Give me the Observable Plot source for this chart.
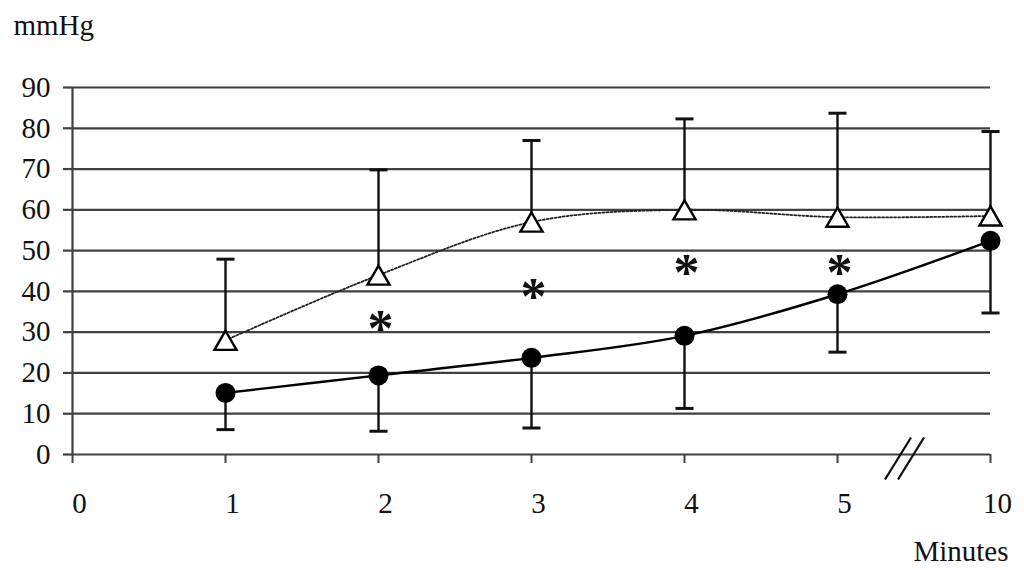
<!DOCTYPE html>
<html><head><meta charset="utf-8">
<script src="https://cdn.jsdelivr.net/npm/d3@7"></script>
<script src="https://cdn.jsdelivr.net/npm/@observablehq/plot@0.6"></script>
<style>body{margin:0;background:#fff} svg{display:block}</style>
</head><body><div id="chart"></div>
<script>
// x categories (equally spaced, with an axis break between 5 and 10)
const minutes = ["0","1","2","3","4","5","10"];
const sampleIdx = [1, 2, 3, 4, 5, 6];
// open triangles (upper error bars)
const triMean  = [28, 44, 57, 60, 58.2, 58.5];
const triUpper = [47.9, 69.8, 77, 82.3, 83.7, 79.2];
// filled circles (lower error bars)
const dotMean  = [15.1, 19.4, 23.7, 29.1, 39.3, 52.4];
const dotLower = [6.1, 5.7, 6.5, 11.3, 25.1, 34.7];
// significance asterisks
const starIdx = [2, 3, 4, 5];
const starY   = [33.4, 41.3, 47, 47];
const yTicks = d3.range(0, 100, 10);
const breakAt = [5.5];

const tri = sampleIdx.map((x, i) => ({x, mean: triMean[i], upper: triUpper[i]}));
const dots = sampleIdx.map((x, i) => ({x, mean: dotMean[i], lower: dotLower[i]}));
const stars = starIdx.map((x, i) => ({x, y: starY[i]}));

const capSymbol = {draw(ctx, size) { const w = Math.sqrt(size); ctx.moveTo(-w / 2, 0); ctx.lineTo(w / 2, 0); }};
const breakSymbol = {draw(ctx, size) {
  ctx.moveTo(-29, 25); ctx.lineTo(-3, -17);
  ctx.moveTo(-16, 25); ctx.lineTo(10, -17);
}};

const font = "'Liberation Serif', 'Times New Roman', serif";
const fs = 29;
const chart = Plot.plot({
  width: 1024, height: 570,
  marginLeft: 72, marginRight: 34, marginTop: 87, marginBottom: 116,
  style: {fontFamily: font, fontSize: fs + "px", color: "#111", background: "#fff"},
  x: {type: "linear", domain: [0, 6], label: null, axis: null},
  y: {domain: [0, 90], label: null, axis: null},
  marks: [
    Plot.ruleY(yTicks, {stroke: "#404040", strokeWidth: 2.2}),
    Plot.ruleX([0], {y1: 0, y2: 90, stroke: "#404040", strokeWidth: 2.2}),
    Plot.axisY({ticks: yTicks, tickSize: 9, tickPadding: 13, stroke: "#404040", strokeWidth: 2.2, fontSize: fs, label: null}),
    Plot.axisX({ticks: d3.range(minutes.length), tickSize: 9, stroke: "#404040", strokeWidth: 2, text: null, label: null}),
    Plot.axisX({ticks: d3.range(minutes.length), tickSize: 0, tickPadding: 38, dx: 7, tickFormat: i => minutes[i], fontSize: fs, label: null}),
    Plot.dot(breakAt, {x: d => d, y: () => 0, symbol: breakSymbol, r: 10, stroke: "#111", strokeWidth: 2.3, fill: "none"}),
    // error bars
    Plot.ruleX(tri, {x: "x", y1: "mean", y2: "upper", stroke: "#111", strokeWidth: 2.4}),
    Plot.dot(tri, {x: "x", y: "upper", symbol: capSymbol, r: 10.2, stroke: "#111", strokeWidth: 3, fill: "none"}),
    Plot.ruleX(dots, {x: "x", y1: "mean", y2: "lower", stroke: "#111", strokeWidth: 2.4}),
    Plot.dot(dots, {x: "x", y: "lower", symbol: capSymbol, r: 10.2, stroke: "#111", strokeWidth: 3, fill: "none"}),
    // lines
    Plot.line(tri, {x: "x", y: "mean", curve: "catmull-rom", stroke: "#222", strokeWidth: 1.8, strokeDasharray: "2,2"}),
    Plot.line(dots, {x: "x", y: "mean", curve: "catmull-rom", stroke: "#000", strokeWidth: 2.4}),
    // markers
    Plot.dot(tri, {x: "x", y: "mean", symbol: "triangle", r: 8.2, fill: "white", stroke: "#000", strokeWidth: 2.4, dy: 3.2}),
    Plot.dot(dots, {x: "x", y: "mean", r: 10, fill: "#000"}),
    // asterisks
    Plot.text(stars, {x: "x", y: "y", text: () => "*", fontSize: 52, fontWeight: "bold", dx: 2, dy: 11, fill: "#111"}),
    // axis titles
    Plot.text(["mmHg"], {frameAnchor: "top-left", textAnchor: "start", lineAnchor: "middle", dx: -59, dy: -62, fontSize: fs, fill: "#111"}),
    Plot.text(["Minutes"], {frameAnchor: "bottom-right", textAnchor: "end", lineAnchor: "middle", dx: 18, dy: 97, fontSize: fs, fill: "#111"})
  ]
});
document.getElementById("chart").append(chart);
</script>
</body></html>
